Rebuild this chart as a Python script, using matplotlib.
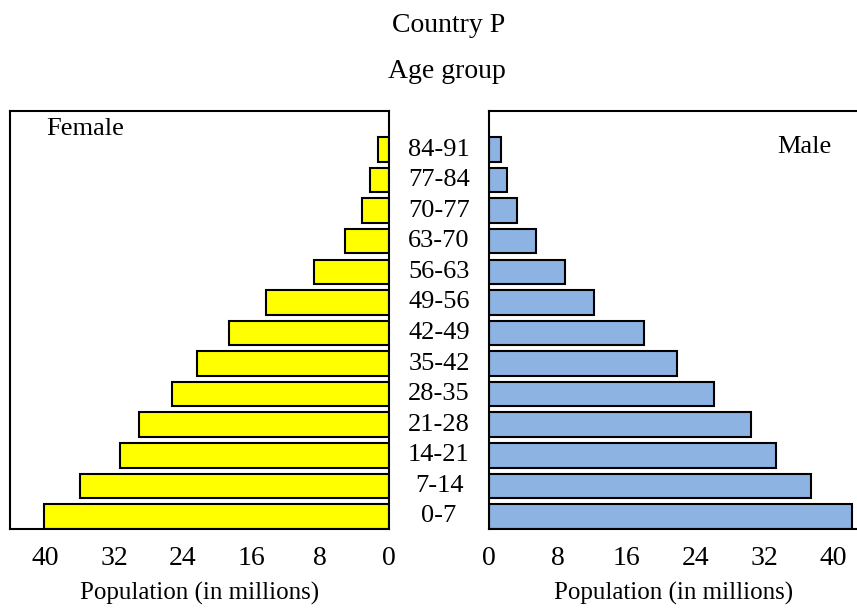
import matplotlib.pyplot as plt

plt.rcParams['font.family'] = ['Liberation Serif', 'DejaVu Serif']

ages = ['0-7', '7-14', '14-21', '21-28', '28-35', '35-42', '42-49',
        '49-56', '56-63', '63-70', '70-77', '77-84', '84-91']
female = [40.2, 36.0, 31.3, 29.1, 25.3, 22.3, 18.6, 14.3, 8.7, 5.1, 3.1, 2.2, 1.3]
male = [42.2, 37.4, 33.4, 30.5, 26.2, 21.9, 18.0, 12.2, 8.8, 5.5, 3.3, 2.1, 1.4]
ticks = [0, 8, 16, 24, 32, 40]

W, H = 857, 611
fig = plt.figure(figsize=(W / 100, H / 100), dpi=100)

# axes placed in pixel terms (left, top, right, bottom)
axl = fig.add_axes([10 / W, 1 - 529 / H, 379 / W, 418 / H])
axr = fig.add_axes([489 / W, 1 - 529 / H, 370 / W, 418 / H])

y = list(range(len(ages)))
axl.barh(y, female, height=0.8, color='#ffff00', edgecolor='black', linewidth=1.5)
axr.barh(y, male, height=0.8, color='#8db3e2', edgecolor='black', linewidth=1.5)

axl.set_xlim(44.1, 0)
axr.set_xlim(0, 43)
for ax in (axl, axr):
    ax.set_ylim(-0.41, 13.26)
    ax.set_yticks([])
    ax.set_xticks(ticks)
    ax.set_xticklabels([str(t) for t in ticks])
    ax.tick_params(axis='x', length=0, pad=12, labelsize=20)
    for s in ax.spines.values():
        s.set_linewidth(1.5)
    ax.set_xlabel('Population (in millions)', fontsize=18, labelpad=8)
axr.spines['right'].set_visible(False)

# age group labels between the two panels
for i, a in enumerate(ages):
    axl.text(1.132, i, a, transform=axl.get_yaxis_transform(),
             ha='center', va='center', fontsize=19)

axl.text(36 / 379, 1 - 18 / 418, 'Female', transform=axl.transAxes,
         ha='left', va='center', fontsize=19)
axr.text(288 / 370, 1 - 36 / 418, 'Male', transform=axr.transAxes,
         ha='left', va='center', fontsize=19)

fig.text(449 / W, 1 - 25 / H, 'Country P', ha='center', va='center', fontsize=20)
fig.text(447 / W, 1 - 72 / H, 'Age group', ha='center', va='center', fontsize=20)

fig.savefig('out.png', dpi=100)
